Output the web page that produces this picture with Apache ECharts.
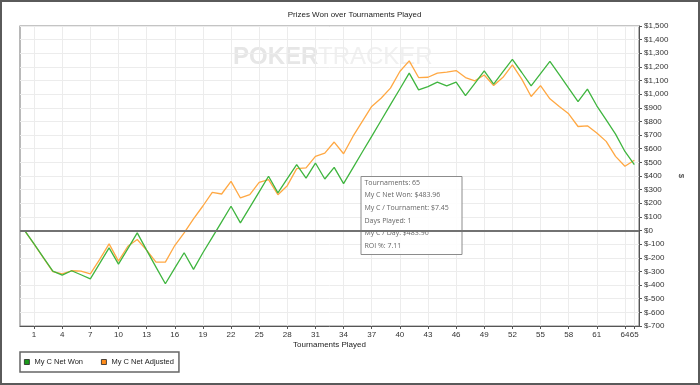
<!DOCTYPE html>
<html>
<head>
<meta charset="utf-8">
<script src="https://cdn.jsdelivr.net/npm/echarts@6/dist/echarts.min.js"></script>
<style>
html,body{margin:0;padding:0;background:#fff;}
#chart{width:700px;height:385px;}
</style>
</head>
<body>
<div id="chart"></div>
<script>
const tournaments = [0,1,2,3,4,5,6,7,8,9,10,11,12,13,14,15,16,17,18,19,20,21,22,23,24,25,26,27,28,29,30,31,32,33,34,35,36,37,38,39,40,41,42,43,44,45,46,47,48,49,50,51,52,53,54,55,56,57,58,59,60,61,62,63,64,65];
const netWon = [0,-98,-198,-298,-327,-295,-324,-354,-241,-127,-246,-132,-17,-144,-268,-390,-276,-163,-285,-163,-50,64,178,56,170,284,398,276,380,483,385,495,378,463,344,460,576,691,807,923,1038,1154,1032,1056,1088,1061,1088,990,1080,1171,1073,1166,1256,1159,1061,1151,1241,1143,1044,946,1037,915,812,707,580,484];
const netAdjusted = [0,-100,-200,-302,-317,-295,-298,-317,-212,-98,-224,-115,-66,-144,-232,-232,-110,-17,85,180,280,268,361,239,263,354,373,263,329,454,459,544,568,649,563,690,800,910,970,1044,1166,1244,1122,1124,1154,1161,1173,1122,1098,1141,1063,1124,1215,1110,983,1063,966,910,856,763,768,715,654,544,471,515];
const xTickValues = [1,4,7,10,13,16,19,22,25,28,31,34,37,40,43,46,49,52,55,58,61,64,65];
const tooltipLines = ['Tournaments: 65','My C Net Won: $483.96','My C / Tournament: $7.45','Days Played: 1','My C / Day: $483.96','ROI %: 7.11'];
const seriesNames = ['My C Net Won','My C Net Adjusted'];
const titleText = 'Prizes Won over Tournaments Played';
const xTitle = 'Tournaments Played';
const yTitle = '$';

const pairs = arr => tournaments.map((t,i)=>[t,arr[i]]);
const fmtMoney = v => '$' + (v<0?'-':'') + String(Math.abs(v)).replace(/\B(?=(\d{3})+(?!\d))/g, ',');
const FONT = '"Liberation Sans", Arial, sans-serif';
const TFONT = '"Open Sans", "Noto Sans", sans-serif';

const chart = echarts.init(document.getElementById('chart'), null, {renderer:'canvas'});

const tipElems = tooltipLines.map((s,i)=>({
  type:'text', z:1, silent:true,
  style:{x:364.5, y:182.7 + i*12.6, text:s, fill:'#666666', font:'7px ' + TFONT, textVerticalAlign:'middle', verticalAlign:'middle'}
}));

chart.setOption({
  animation:false,
  backgroundColor:'#fff',
  grid:{left:20, right:61, top:26, bottom:59, show:true, borderColor:'#8a8a8a', borderWidth:1.2, containLabel:false},
  xAxis:{
    type:'value', min:-0.5, max:65.5,
    name:xTitle, nameLocation:'middle', nameGap:15, nameMoveOverlap:false,
    nameTextStyle:{fontFamily:FONT, fontSize:8, color:'#222'},
    axisLine:{show:true, onZero:false, lineStyle:{color:'#555', width:1}},
    axisTick:{show:true, length:3, customValues:xTickValues, lineStyle:{color:'#555'}},
    axisLabel:{customValues:xTickValues, margin:5, fontFamily:FONT, fontSize:8, color:'#333'},
    splitLine:{show:true, lineStyle:{color:'#ececec', width:1}}
  },
  yAxis:{
    type:'value', position:'right', min:-700, max:1500, interval:100,
    name:yTitle, nameLocation:'middle', nameGap:38, nameRotate:-90, nameMoveOverlap:false,
    nameTextStyle:{fontFamily:FONT, fontSize:8, color:'#222'},
    axisLine:{show:true, onZero:false, lineStyle:{color:'#555', width:1}},
    axisTick:{show:true, length:3, lineStyle:{color:'#555'}},
    axisLabel:{formatter:fmtMoney, margin:5, fontFamily:FONT, fontSize:8, color:'#333'},
    splitLine:{show:true, lineStyle:{color:'#ececec', width:1}}
  },
  legend:{
    left:20, top:352, orient:'horizontal',
    data:[
      {name:seriesNames[0], icon:'rect', itemStyle:{color:'#1a9a1a', borderColor:'#222', borderWidth:0.8}},
      {name:seriesNames[1], icon:'rect', itemStyle:{color:'#ff8c1a', borderColor:'#222', borderWidth:0.8}}
    ],
    itemWidth:5, itemHeight:5, itemGap:18,
    padding:[5.5,5,5.5,4],
    borderColor:'#666', borderWidth:1.5, backgroundColor:'#fff',
    textStyle:{fontFamily:FONT, fontSize:7.5, color:'#222', lineHeight:9}
  },
  graphic:[
    {type:'text', z:0, silent:true, style:{x:233, y:57, text:'POKER', fill:'#e6e6e6', font:'bold 24px ' + FONT, textVerticalAlign:'middle', verticalAlign:'middle'}},
    {type:'text', z:0, silent:true, style:{x:318, y:57, text:'TRACKER', fill:'#f0f0f0', font:'24px ' + FONT, textVerticalAlign:'middle', verticalAlign:'middle'}},
    {type:'text', z:5, silent:true, style:{x:354.5, y:15, text:titleText, fill:'#222', font:'8px ' + FONT, textAlign:'center', align:'center', textVerticalAlign:'middle', verticalAlign:'middle'}},
    {type:'rect', z:1, silent:true, shape:{x:361, y:176.5, width:101, height:78}, style:{fill:'rgba(255,255,255,0.9)', stroke:'#8c8c8c', lineWidth:1}},
    ...tipElems,
    {type:'rect', z:100, silent:true, shape:{x:1, y:1, width:698, height:383}, style:{fill:'none', stroke:'#5a5a5a', lineWidth:2}}
  ],
  series:[
    {
      name:seriesNames[1], type:'line', data:pairs(netAdjusted), showSymbol:false, symbol:'none', z:3,
      lineStyle:{color:'#ffa843', width:1.3}, itemStyle:{color:'#ff8c1a'}
    },
    {
      name:seriesNames[0], type:'line', data:pairs(netWon), showSymbol:false, symbol:'none', z:4,
      lineStyle:{color:'#3fb53f', width:1.3}, itemStyle:{color:'#1a9a1a'},
      markLine:{silent:true, symbol:'none', label:{show:false}, lineStyle:{color:'#727272', width:2, type:'solid'}, data:[{yAxis:0}]}
    }
  ]
});
</script>
</body>
</html>
